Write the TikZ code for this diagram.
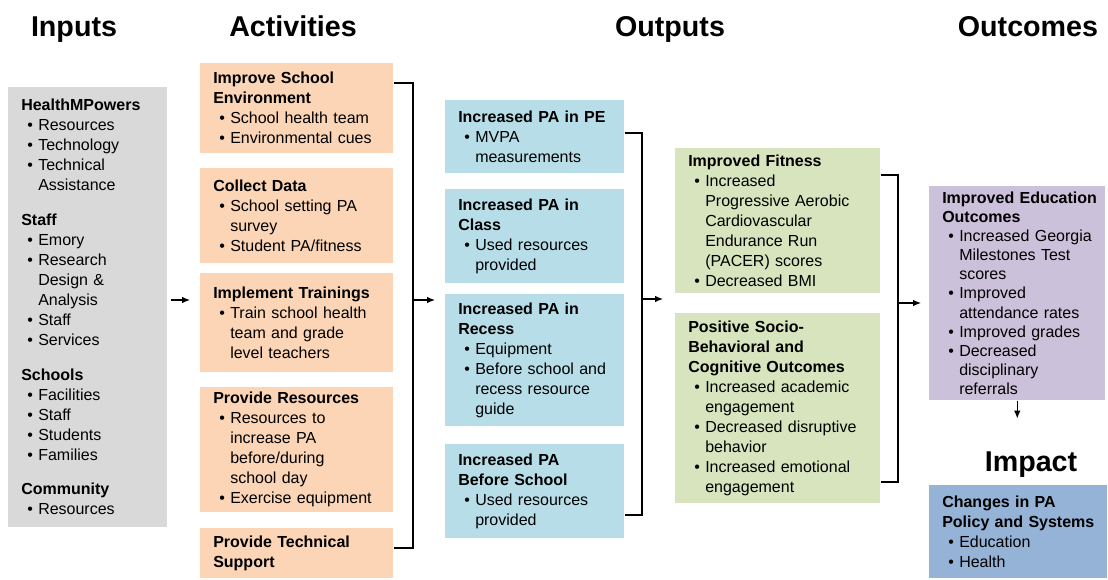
\documentclass[tikz,border=0pt]{standalone}
\usepackage{fontspec}
\setmainfont{Liberation Sans}
\usetikzlibrary{arrows.meta}

\definecolor{inputgray}{HTML}{D9D9D9}
\definecolor{actpeach}{HTML}{FBD5B5}
\definecolor{outblue}{HTML}{B7DEE8}
\definecolor{fitgreen}{HTML}{D7E4BD}
\definecolor{edupurple}{HTML}{CCC1DA}
\definecolor{impblue}{HTML}{95B3D7}

% bullet item with hanging indent, and gap between groups
\newcommand{\itm}{\par\noindent\hangindent=12.75pt\hangafter=1\hbox to 12.75pt{\hspace{4.5pt}\textbullet\hss}}
\newcommand{\grp}{\par\vspace{11pt}}

\tikzset{
  blk/.style={anchor=north west, fill=#1, inner sep=0pt, align=left,
    font=\fontsize{12}{15}\selectfont,
    execute at begin node={\leftskip=9.75pt\let\\\newline}},
  inbox/.style={blk=inputgray, text width=119.25pt},
  actbox/.style={blk=actpeach, text width=144.75pt},
  outbox/.style={blk=outblue, text width=134.25pt},
  fitbox/.style={blk=fitgreen, text width=153.75pt},
  edubox/.style={blk=edupurple, text width=132pt},
  impbox/.style={blk=impblue, text width=133.5pt},
  hdr/.style={anchor=base, font=\fontsize{21.5}{24}\selectfont\bfseries},
  bus/.style={line width=0.9pt},
  arr/.style={bus, -{Latex[length=6pt,width=5pt]}},
}

\begin{document}
\begin{tikzpicture}[x=0.75pt, y=-0.75pt]
    \useasboundingbox (0,0) rectangle (1108,580);

    % Column titles
    \node[hdr] (tin) at (74,37) {Inputs};
    \node[hdr] (tact) at (293,37) {Activities};
    \node[hdr] (tout) at (670,37) {Outputs};
    \node[hdr] (toc) at (1028,37) {Outcomes};
    \node[hdr] (timp) at (1031,472) {Impact};

    % Inputs
    \node[inbox, minimum height=330pt] (inp) at (8,87) {\textbf{HealthMPowers}
        \itm Resources
        \itm Technology
        \itm Technical\\Assistance
        \grp\textbf{Staff}
        \itm Emory
        \itm Research\\Design \&\\Analysis
        \itm Staff
        \itm Services
        \grp\textbf{Schools}
        \itm Facilities
        \itm Staff
        \itm Students
        \itm Families
        \grp\textbf{Community}
        \itm Resources\par};

    % Activities
    \node[actbox, minimum height=67.5pt] (a1) at (200,63) {\textbf{Improve School\\Environment}
        \itm School health team
        \itm Environmental cues\par};
    \node[actbox, minimum height=71.25pt] (a2) at (200,168) {\textbf{Collect Data}
        \itm School setting PA\\survey
        \itm Student PA/fitness\par};
    \node[actbox, minimum height=74.25pt] (a3) at (200,273) {\textbf{Implement Trainings}
        \itm Train school health\\team and grade\\level teachers\par};
    \node[actbox, minimum height=93.75pt] (a4) at (200,387) {\textbf{Provide Resources}
        \itm Resources to\\increase PA\\before/during\\school day
        \itm Exercise equipment\par};
    \node[actbox, minimum height=37.5pt] (a5) at (200,528) {\textbf{Provide Technical\\Support}\par};

    % Outputs
    \node[outbox, minimum height=54.75pt] (o1) at (445,100) {\textbf{Increased PA in PE}
        \itm MVPA\\measurements\par};
    \node[outbox, minimum height=70.5pt] (o2) at (445,189) {\textbf{Increased PA in\\Class}
        \itm Used resources\\provided\par};
    \node[outbox, minimum height=99pt] (o3) at (445,294) {\textbf{Increased PA in\\Recess}
        \itm Equipment
        \itm Before school and\\recess resource\\guide\par};
    \node[outbox, minimum height=70.5pt] (o4) at (445,444) {\textbf{Increased PA\\Before School}
        \itm Used resources\\provided\par};

    % Outcomes
    \node[fitbox, minimum height=108.75pt] (g1) at (675,148) {\textbf{Improved Fitness}
        \itm Increased\\Progressive Aerobic\\Cardiovascular\\Endurance Run\\(PACER) scores
        \itm Decreased BMI\par};
    \node[fitbox, minimum height=142.5pt] (g2) at (675,313) {\textbf{Positive Socio-\\Behavioral and\\Cognitive Outcomes}
        \itm Increased academic\\engagement
        \itm Decreased disruptive\\behavior
        \itm Increased emotional\\engagement\par};
    \node[edubox, minimum height=160.5pt, font=\fontsize{12}{14.3}\selectfont] (pur) at (929,186) {\textbf{Improved Education\\Outcomes}
        \itm Increased Georgia\\Milestones Test\\scores
        \itm Improved\\attendance rates
        \itm Improved grades
        \itm Decreased\\disciplinary\\referrals\par};

    % Impact
    \node[impbox, minimum height=69.75pt] (imp) at (929,485) {\textbf{Changes in PA\\Policy and Systems}
        \itm Education
        \itm Health\par};

    % Brackets joining each column
    \coordinate (actbus) at (413,300);
    \coordinate (outbus) at (642,299);
    \coordinate (fitbus) at (898,303);
    \draw[bus] (a1.east |- 0,83) -| (actbus) |- (a5.east |- 0,548);
    \draw[bus] (o1.east |- 0,133) -| (outbus) |- (o4.east |- 0,515);
    \draw[bus] (g1.east |- 0,175) -| (fitbus) |- (g2.east |- 0,482);

    % Arrows between columns
    \draw[arr, shorten <=2.25pt, shorten >=7.5pt] (inp.east |- actbus) -- (actbus -| a3.west);
    \draw[arr, shorten >=7.5pt] (actbus) -- (actbus -| o3.west);
    \draw[arr, shorten >=9pt] (outbus) -- (outbus -| g1.west);
    \draw[arr, shorten >=6pt] (fitbus) -- (fitbus -| pur.west);
    \draw[arr] (pur.south) -- ++(0,18);
\end{tikzpicture}
\end{document}
